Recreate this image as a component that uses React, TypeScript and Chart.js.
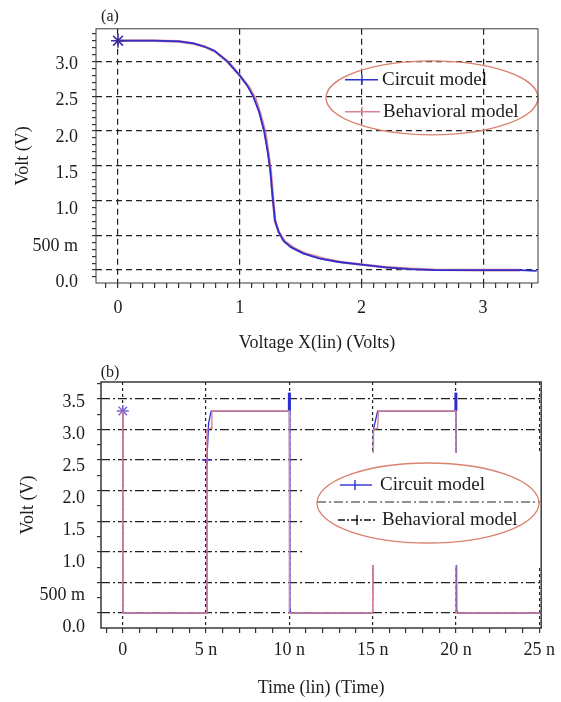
import React, { useEffect, useRef } from 'react';
import { Chart, registerables } from 'chart.js';

Chart.register(...registerables);

const SERIF = "'Liberation Serif', 'DejaVu Serif', 'Times New Roman', serif";
Chart.defaults.font.family = SERIF;

// ---------- (a) DC transfer curve: input voltage (V) -> output voltage (V)
const dcCircuitVin = [0, 0.3, 0.5, 0.62, 0.7, 0.79, 0.9, 1.0, 1.06, 1.11, 1.16, 1.2, 1.23, 1.25, 1.27, 1.29, 1.32, 1.36, 1.42, 1.52, 1.65, 1.8, 2.0, 2.2, 2.4, 2.6, 3.0, 3.3, 3.44];
const dcCircuitVout = [3.3, 3.3, 3.29, 3.26, 3.22, 3.16, 3.0, 2.8, 2.66, 2.5, 2.27, 2.0, 1.7, 1.45, 1.05, 0.72, 0.55, 0.42, 0.33, 0.24, 0.17, 0.12, 0.08, 0.04, 0.015, 0.0, 0.0, 0.0, -0.01];
const dcBehavVin = [0, 0.3, 0.5, 0.62, 0.72, 0.8, 0.9, 1.0, 1.08, 1.13, 1.17, 1.21, 1.235, 1.255, 1.275, 1.29, 1.32, 1.37, 1.45, 1.55, 1.7, 1.85, 2.0, 2.2, 2.4, 2.6, 3.0, 3.3];
const dcBehavVout = [3.3, 3.3, 3.29, 3.26, 3.21, 3.14, 3.0, 2.8, 2.62, 2.46, 2.24, 1.98, 1.68, 1.42, 1.0, 0.7, 0.55, 0.41, 0.31, 0.23, 0.16, 0.11, 0.08, 0.04, 0.02, 0.005, 0.0, 0.0];

const dcVinTicks = [0, 1, 2, 3];
const dcVinTickLabels = ['0', '1', '2', '3'];
const dcVoltTicks = [0, 0.5, 1, 1.5, 2, 2.5, 3];
const dcVoltTickLabels = ['0.0', '500 m', '1.0', '1.5', '2.0', '2.5', '3.0'];

// ---------- (b) transient response: time (ns) -> voltage (V)
const trCircuitT = [0, 0, 5, 5.05, 5.15, 5.3, 10, 10, 10.03, 10.08, 15, 15.05, 15.3, 20, 20, 20.05, 20.1, 25.1];
const trCircuitV = [3.3, 0, 0, 2.5, 3.1, 3.3, 3.3, 3.6, 0.1, 0, 0, 3.0, 3.3, 3.3, 3.6, 0.05, 0, 0];
const trBehavT = [0, 0, 5, 5.05, 5.3, 5.35, 10, 10, 15, 15.05, 15.3, 15.35, 20, 20, 25.1];
const trBehavV = [3.3, 0, 0, 3.0, 3.02, 3.3, 3.3, 0, 0, 3.0, 3.02, 3.3, 3.3, 0, 0];

const trTimeTicks = [0, 5, 10, 15, 20, 25];
const trTimeTickLabels = ['0', '5 n', '10 n', '15 n', '20 n', '25 n'];
const trVoltTicks = [0, 0.5, 1, 1.5, 2, 2.5, 3, 3.5];
const trVoltTickLabels = ['0.0', '500 m', '1.0', '1.5', '2.0', '2.5', '3.0', '3.5'];

const seriesNames = ['Circuit model', 'Behavioral model'];

// ---------- styles
const BLUE = '#2f2fd0';
const PINK = '#d98595';
const STAR = '#3b2f9e';
const GRID = '#222222';
const TEXT = '#1c1c1c';
const ELLIPSE = '#d9826f';

const near = (arr: number[], v: number) => arr.some((m) => Math.abs(m - v) < 1e-6);
const labelFor = (vals: number[], labels: string[], v: number) => {
  const i = vals.findIndex((m) => Math.abs(m - v) < 1e-6);
  return i >= 0 ? labels[i] : '';
};
const toPoints = (xs: number[], ys: number[]) => xs.map((x, i) => ({ x, y: ys[i] }));

interface LegendEntry {
  dataset: number;
  y: number; x1: number; x2: number; markX: number; textX: number;
  color?: string; dash?: number[];
}
interface Decor {
  panel: string; panelDx: number; panelDy: number;
  ellipse: { cx: number; cy: number; rx: number; ry: number };
  box?: { x: number; y: number; w: number; h: number };
  separator?: { y: number; x1: number; x2: number; dash: number[] };
  entries: LegendEntry[];
  frameWidth: number;
}

function decorPlugin(d: Decor) {
  return {
    id: 'decor',
    afterDatasetsDraw(chart: any) {
      const { ctx, chartArea: a } = chart;
      ctx.save();
      if (d.box) {
        ctx.fillStyle = '#ffffff';
        ctx.fillRect(a.left + d.box.x, a.top + d.box.y, d.box.w, d.box.h);
      }
      if (d.separator) {
        ctx.strokeStyle = GRID;
        ctx.lineWidth = 1.2;
        ctx.setLineDash(d.separator.dash);
        ctx.beginPath();
        ctx.moveTo(a.left + d.separator.x1, a.top + d.separator.y);
        ctx.lineTo(a.left + d.separator.x2, a.top + d.separator.y);
        ctx.stroke();
        ctx.setLineDash([]);
      }
      ctx.strokeStyle = ELLIPSE;
      ctx.lineWidth = 1.3;
      ctx.beginPath();
      ctx.ellipse(a.left + d.ellipse.cx, a.top + d.ellipse.cy, d.ellipse.rx, d.ellipse.ry, 0, 0, Math.PI * 2);
      ctx.stroke();

      ctx.font = `19px ${SERIF}`;
      ctx.textBaseline = 'middle';
      ctx.textAlign = 'left';
      d.entries.forEach((e) => {
        const ds = chart.data.datasets[e.dataset];
        const y = a.top + e.y;
        ctx.strokeStyle = e.color ?? ds.borderColor;
        ctx.lineWidth = 1.4;
        ctx.setLineDash(e.dash ?? []);
        ctx.beginPath();
        ctx.moveTo(a.left + e.x1, y);
        ctx.lineTo(a.left + e.x2, y);
        ctx.stroke();
        ctx.setLineDash([]);
        const mx = a.left + e.markX;
        ctx.beginPath();
        ctx.moveTo(mx, y - 5);
        ctx.lineTo(mx, y + 5);
        ctx.stroke();
        ctx.fillStyle = TEXT;
        ctx.fillText(ds.label, a.left + e.textX, y);
      });

      ctx.strokeStyle = '#3a3a3a';
      ctx.lineWidth = d.frameWidth;
      ctx.strokeRect(a.left, a.top, a.right - a.left, a.bottom - a.top);

      ctx.font = `16px ${SERIF}`;
      ctx.fillStyle = TEXT;
      ctx.textAlign = 'center';
      ctx.fillText(d.panel, a.left + d.panelDx, a.top + d.panelDy);
      ctx.restore();
    },
  };
}

interface PanelSpec {
  width: number; height: number;
  padTop: number; padRight: number; leftWidth: number; xAxisHeight: number;
  xRange: [number, number]; yRange: [number, number]; labelRange: [number, number];
  xMinorStep: number; yMinorStep: number;
  xTicks: number[]; xTickLabels: string[]; yTicks: number[]; yTickLabels: string[];
  xTitle: string; yTitle: string;
  yLabelPad: number; yTitlePad: number; xLabelPad: number; xTitlePad: number;
  xDash: number[]; yDash: number[];
  datasets: any[];
  decor: Decor;
}

function buildConfig(s: PanelSpec): any {
  const tickFont = { family: SERIF, size: 18 };
  return {
    type: 'line',
    data: { datasets: s.datasets },
    options: {
      animation: false,
      responsive: false,
      devicePixelRatio: 1,
      events: [],
      layout: { padding: { top: s.padTop, right: s.padRight, left: 0, bottom: 0 } },
      plugins: { legend: { display: false }, tooltip: { enabled: false } },
      elements: { line: { tension: 0 } },
      scales: {
        x: {
          type: 'linear',
          position: 'bottom',
          min: s.xRange[0],
          max: s.xRange[1],
          afterFit: (sc: any) => { sc.height = s.xAxisHeight; },
          ticks: {
            stepSize: s.xMinorStep,
            includeBounds: false,
            autoSkip: false,
            maxRotation: 0,
            padding: s.xLabelPad,
            color: TEXT,
            font: tickFont,
            callback: (v: any) => labelFor(s.xTicks, s.xTickLabels, Number(v)),
          },
          grid: {
            color: (c: any) => (c.tick && near(s.xTicks, c.tick.value) ? GRID : 'rgba(0,0,0,0)'),
            tickColor: '#333333',
            tickLength: 5,
            lineWidth: 1.2,
          },
          border: { display: false, dash: s.xDash },
          title: {
            display: true,
            text: s.xTitle,
            color: TEXT,
            font: tickFont,
            padding: { top: 0, bottom: s.xTitlePad },
          },
        },
        y: {
          type: 'linear',
          position: 'left',
          weight: 0,
          min: s.yRange[0],
          max: s.yRange[1],
          afterFit: (sc: any) => { sc.width = 0; },
          ticks: { display: false, stepSize: s.yMinorStep, includeBounds: false },
          grid: {
            color: (c: any) => (c.tick && near(s.yTicks, c.tick.value) ? GRID : 'rgba(0,0,0,0)'),
            tickColor: '#333333',
            tickLength: 4,
            lineWidth: 1.2,
          },
          border: { display: false, dash: s.yDash },
        },
        yl: {
          type: 'linear',
          position: 'left',
          weight: 1,
          min: s.labelRange[0],
          max: s.labelRange[1],
          afterFit: (sc: any) => { sc.width = s.leftWidth; },
          afterBuildTicks: (sc: any) => { sc.ticks = s.yTicks.map((v) => ({ value: v })); },
          ticks: {
            autoSkip: false,
            padding: s.yLabelPad,
            color: TEXT,
            font: tickFont,
            callback: (v: any) => labelFor(s.yTicks, s.yTickLabels, Number(v)),
          },
          grid: { display: false, drawTicks: false },
          border: { display: false },
          title: {
            display: true,
            text: s.yTitle,
            color: TEXT,
            font: tickFont,
            padding: { top: s.yTitlePad, bottom: 0 },
          },
        },
      },
    },
    plugins: [decorPlugin(s.decor)],
  };
}

const panelA: PanelSpec = {
  width: 561, height: 355,
  padTop: 27, padRight: 23, leftWidth: 96, xAxisHeight: 72,
  xRange: [-0.181, 3.451], yRange: [-0.1857, 3.471], labelRange: [-0.01, 3.49],
  xMinorStep: 0.1, yMinorStep: 0.1,
  xTicks: dcVinTicks, xTickLabels: dcVinTickLabels,
  yTicks: dcVoltTicks, yTickLabels: dcVoltTickLabels,
  xTitle: 'Voltage X(lin) (Volts)', yTitle: 'Volt (V)',
  yLabelPad: 18, yTitlePad: 12, xLabelPad: 9, xTitlePad: 1,
  xDash: [6, 4], yDash: [6, 4],
  datasets: [
    {
      label: seriesNames[0],
      data: toPoints(dcCircuitVin, dcCircuitVout),
      borderColor: BLUE,
      borderWidth: 1.8,
      pointRadius: dcCircuitVin.map((_, i) => (i === 0 ? 7 : 0)),
      pointStyle: 'star',
      pointBorderColor: STAR,
      pointBorderWidth: 1.6,
      order: 1,
    },
    {
      label: seriesNames[1],
      data: toPoints(dcBehavVin, dcBehavVout),
      borderColor: PINK,
      borderWidth: 2.6,
      pointRadius: 0,
      order: 2,
    },
  ],
  decor: {
    panel: '(a)', panelDx: 14, panelDy: -12,
    ellipse: { cx: 336, cy: 69, rx: 106, ry: 37 },
    entries: [
      { dataset: 0, y: 51, x1: 249, x2: 282, markX: 266, textX: 286 },
      { dataset: 1, y: 83, x1: 249, x2: 284, markX: 266, textX: 287 },
    ],
    frameWidth: 1,
  },
};

const panelB: PanelSpec = {
  width: 561, height: 347,
  padTop: 27, padRight: 16, leftWidth: 101, xAxisHeight: 74,
  xRange: [-1.31, 25.12], yRange: [-0.245, 3.775], labelRange: [-0.016, 3.81],
  xMinorStep: 1, yMinorStep: 0.25,
  xTicks: trTimeTicks, xTickLabels: trTimeTickLabels,
  yTicks: trVoltTicks, yTickLabels: trVoltTickLabels,
  xTitle: 'Time (lin) (Time)', yTitle: 'Volt (V)',
  yLabelPad: 16, yTitlePad: 17, xLabelPad: 6, xTitlePad: 3,
  xDash: [3, 3], yDash: [9, 3, 2, 3],
  datasets: [
    {
      label: seriesNames[0],
      data: toPoints(trCircuitT, trCircuitV),
      borderColor: BLUE,
      borderWidth: 1.3,
      segment: {
        borderWidth: (c: any) => (c.p1.parsed.y > 3.4 ? 3 : 1.3),
      },
      pointRadius: trCircuitT.map((_, i) => (i === 0 ? 6 : i === 3 ? 5 : 0)),
      pointStyle: trCircuitT.map((_, i) => (i === 0 ? 'star' : 'cross')),
      pointBorderColor: trCircuitT.map((_, i) => (i === 0 ? '#7a62d6' : BLUE)),
      pointBorderWidth: 1.4,
      order: 2,
    },
    {
      label: seriesNames[1],
      data: toPoints(trBehavT, trBehavV),
      borderColor: PINK,
      borderWidth: 1.4,
      pointRadius: 0,
      order: 1,
    },
  ],
  decor: {
    panel: '(b)', panelDx: 9, panelDy: -9,
    ellipse: { cx: 327, cy: 121, rx: 111, ry: 40 },
    box: { x: 204, y: 71, w: 240, h: 112 },
    separator: { y: 120, x1: 216, x2: 439, dash: [9, 3, 2, 3] },
    entries: [
      { dataset: 0, y: 103, x1: 239, x2: 271, markX: 254, textX: 279 },
      { dataset: 1, y: 138, x1: 237, x2: 276, markX: 256, textX: 281, color: '#111111', dash: [7, 2, 2, 2] },
    ],
    frameWidth: 1.5,
  },
};

function ChartPanel({ spec, top }: { spec: PanelSpec; top: number }) {
  const ref = useRef<HTMLCanvasElement>(null);
  useEffect(() => {
    const chart = new Chart(ref.current as HTMLCanvasElement, buildConfig(spec));
    return () => chart.destroy();
  }, [spec]);
  return (
    <canvas
      ref={ref}
      width={spec.width}
      height={spec.height}
      style={{ position: 'absolute', left: 0, top, width: spec.width, height: spec.height, display: 'block' }}
    />
  );
}

export default function App() {
  return (
    <div style={{ position: 'absolute', left: 0, top: 0, width: 561, height: 702, background: '#ffffff', overflow: 'hidden' }}>
      <ChartPanel spec={panelA} top={0} />
      <ChartPanel spec={panelB} top={355} />
    </div>
  );
}
